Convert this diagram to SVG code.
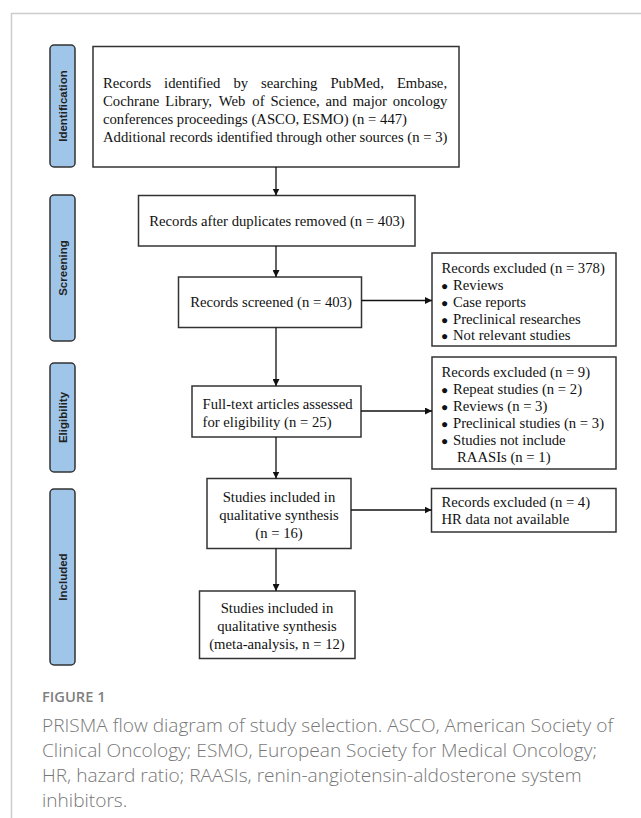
<svg xmlns="http://www.w3.org/2000/svg" width="641" height="818" viewBox="0 0 641 818">
<defs>
<marker id="ah" viewBox="0 0 10 10" refX="10" refY="5" markerWidth="7" markerHeight="7" markerUnits="userSpaceOnUse" orient="auto">
<path d="M0,0 L10,5 L0,10 z" fill="#111"/>
</marker>
</defs>
<style>
.frame{stroke:#cccccc;stroke-width:1.5;fill:none}
.tab{fill:#9fc5e8;stroke:#333;stroke-width:1.5}
.tabt{font-family:"Liberation Sans",Arial,sans-serif;font-weight:bold;font-size:11.5px;fill:#222;text-anchor:middle}
.box{fill:#fff;stroke:#333;stroke-width:1.5}
.t{font-family:"Liberation Serif","Times New Roman",serif;font-size:14.7px;fill:#111}
.c{text-anchor:middle}
.b{font-size:12px}
.conn line{stroke:#111;stroke-width:1.3;marker-end:url(#ah)}
.cap1{font-family:"Open Sans","Noto Sans",sans-serif;font-weight:600;font-size:14.7px;fill:#7f7f7f}
.cap{font-family:"Open Sans","Noto Sans",sans-serif;font-weight:300;font-size:19.1px;fill:#777}
</style>
<rect width="641" height="818" fill="#fff"/>
<path class="frame" d="M11.5,818 V13.5 H641"/>

<g id="tab-identification"><rect class="tab" x="50" y="45" width="25" height="122" rx="4"/><text class="tabt" transform="translate(66.5,106) rotate(-90)">Identification</text></g>
<g id="tab-screening"><rect class="tab" x="50" y="195" width="25" height="146" rx="4"/><text class="tabt" transform="translate(66.5,268) rotate(-90)">Screening</text></g>
<g id="tab-eligibility"><rect class="tab" x="50" y="363" width="25" height="109" rx="4"/><text class="tabt" transform="translate(66.5,417.5) rotate(-90)">Eligibility</text></g>
<g id="tab-included"><rect class="tab" x="50" y="489" width="25" height="176" rx="4"/><text class="tabt" transform="translate(66.5,577) rotate(-90)">Included</text></g>

<g id="identification">
<rect class="box" x="93" y="46.5" width="366" height="120.5"/>
<text class="t" y="88"><tspan x="103">Records</tspan><tspan x="164.1">identified</tspan><tspan x="233.5">by</tspan><tspan x="261.1">searching</tspan><tspan x="330.4">PubMed,</tspan><tspan x="396.9">Embase,</tspan></text>
<text class="t" y="106"><tspan x="103">Cochrane</tspan><tspan x="165.2">Library,</tspan><tspan x="218.8">Web</tspan><tspan x="252.3">of</tspan><tspan x="270.4">Science,</tspan><tspan x="325.6">and</tspan><tspan x="352.7">major</tspan><tspan x="392.8">oncology</tspan></text>
<text class="t" x="103" y="124">conferences proceedings (ASCO, ESMO) (n = 447)</text>
<text class="t" x="103" y="142">Additional records identified through other sources (n = 3)</text>
</g>

<g id="duplicates-removed">
<rect class="box" x="138.5" y="195.5" width="276.5" height="50.5"/>
<text class="t c" x="277" y="226">Records after duplicates removed (n = 403)</text>
</g>

<g id="records-screened">
<rect class="box" x="178.5" y="277" width="183" height="50.5"/>
<text class="t c" x="271" y="307">Records screened (n = 403)</text>
</g>

<g id="excluded-screening">
<rect class="box" x="432" y="253" width="184" height="93"/>
<text class="t" x="441.5" y="273">Records excluded (n = 378)</text>
<text class="t" y="290"><tspan class="b" x="441">●</tspan><tspan x="453">Reviews</tspan></text>
<text class="t" y="307"><tspan class="b" x="441">●</tspan><tspan x="453">Case reports</tspan></text>
<text class="t" y="323.5"><tspan class="b" x="441">●</tspan><tspan x="453">Preclinical researches</tspan></text>
<text class="t" y="340"><tspan class="b" x="441">●</tspan><tspan x="453">Not relevant studies</tspan></text>
</g>

<g id="full-text">
<rect class="box" x="192" y="386" width="169" height="51"/>
<text class="t" x="202.5" y="408.5">Full-text articles assessed</text>
<text class="t" x="202.5" y="426.5">for eligibility (n = 25)</text>
</g>

<g id="excluded-eligibility">
<rect class="box" x="432" y="357" width="184" height="112"/>
<text class="t" x="441.5" y="376.5">Records excluded (n = 9)</text>
<text class="t" y="393.5"><tspan class="b" x="441">●</tspan><tspan x="453">Repeat studies (n = 2)</tspan></text>
<text class="t" y="410.5"><tspan class="b" x="441">●</tspan><tspan x="453">Reviews (n = 3)</tspan></text>
<text class="t" y="427.5"><tspan class="b" x="441">●</tspan><tspan x="453">Preclinical studies (n = 3)</tspan></text>
<text class="t" y="444.5"><tspan class="b" x="441">●</tspan><tspan x="453">Studies not include</tspan></text>
<text class="t" x="457" y="461.5">RAASIs (n = 1)</text>
</g>

<g id="qualitative">
<rect class="box" x="207" y="478.5" width="144" height="70"/>
<text class="t c" x="279" y="502">Studies included in</text>
<text class="t c" x="279" y="520">qualitative synthesis</text>
<text class="t c" x="279" y="538">(n = 16)</text>
</g>

<g id="excluded-included">
<rect class="box" x="431.5" y="488.5" width="184.5" height="43.5"/>
<text class="t" x="441.5" y="507">Records excluded (n = 4)</text>
<text class="t" x="441.5" y="524">HR data not available</text>
</g>

<g id="meta-analysis">
<rect class="box" x="199.5" y="591" width="155.5" height="67.5"/>
<text class="t c" x="277" y="613">Studies included in</text>
<text class="t c" x="277" y="631">qualitative synthesis</text>
<text class="t c" x="277" y="649">(meta-analysis, n = 12)</text>
</g>

<g id="connectors" class="conn">
<line x1="276" y1="167" x2="276" y2="195.5"/>
<line x1="276" y1="246" x2="276" y2="277"/>
<line x1="276" y1="327.5" x2="276" y2="386"/>
<line x1="276" y1="437" x2="276" y2="478.5"/>
<line x1="276" y1="548.5" x2="276" y2="591"/>
<line x1="361.5" y1="300.5" x2="432" y2="300.5"/>
<line x1="361" y1="411" x2="432" y2="411"/>
<line x1="351" y1="510" x2="431.5" y2="510"/>
</g>

<text class="cap1" x="42" y="702">FIGURE 1</text>
<text class="cap" x="42" y="732">PRISMA flow diagram of study selection. ASCO, American Society of</text>
<text class="cap" x="42" y="757">Clinical Oncology; ESMO, European Society for Medical Oncology;</text>
<text class="cap" x="42" y="782">HR, hazard ratio; RAASIs, renin-angiotensin-aldosterone system</text>
<text class="cap" x="42" y="807">inhibitors.</text>
</svg>
